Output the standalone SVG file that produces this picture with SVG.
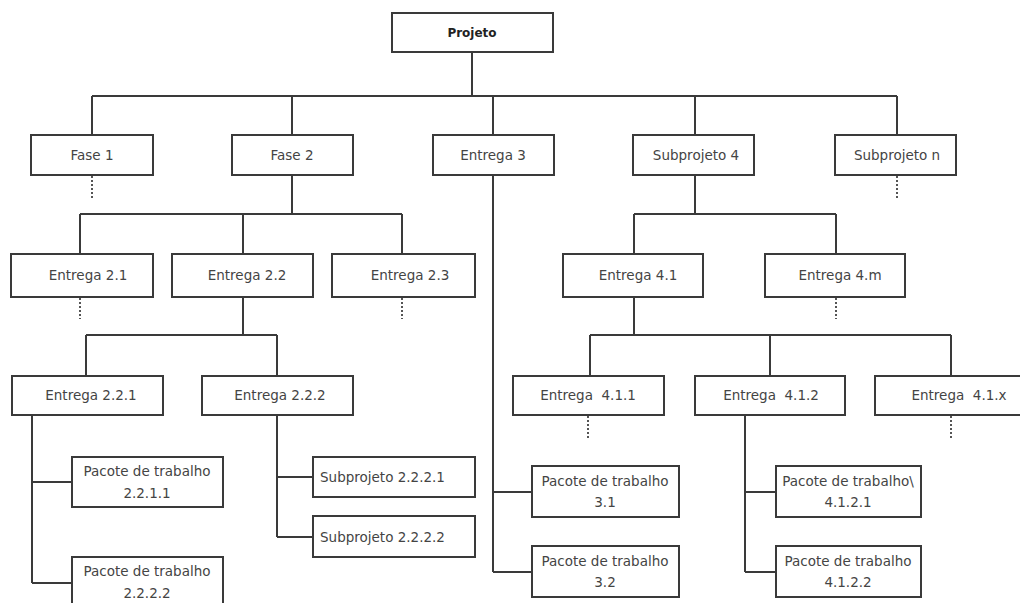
<svg xmlns="http://www.w3.org/2000/svg" width="1020" height="603" viewBox="0 0 1020 603">
<style>
.box{fill:#fff;stroke:#3a3a3a;stroke-width:2}
.t{font-family:"DejaVu Sans",Verdana,sans-serif;font-size:13.5px;fill:#444;text-anchor:middle;white-space:pre}
.tl{text-anchor:start}
.b{font-weight:bold;font-size:12px;fill:#222}
.ln{stroke:#3a3a3a;stroke-width:2;fill:none}
.dt{stroke:#555;stroke-width:2;stroke-dasharray:2 2;fill:none}
</style>
<rect width="1020" height="603" fill="#fff"/>
<g id="connectors">
<path class="ln" d="M472 52V96M92 96H897M92 96V135M292 96V135M493 96V135M695 96V135M897 96V135"/>
<path class="ln" d="M292 175V214M80 214H402M80 214V254M243 214V254M402 214V254"/>
<path class="ln" d="M695 175V214M634 214H836M634 214V254M836 214V254"/>
<path class="ln" d="M493 175V572M493 492H532M493 572H532"/>
<path class="ln" d="M243 297V335M86 335H277M86 335V376M277 335V376"/>
<path class="ln" d="M32 415V583M32 482H72M32 583H72"/>
<path class="ln" d="M277 415V537M277 477H313M277 537H313"/>
<path class="ln" d="M634 297V335M590 335H951M590 335V376M770 335V376M951 335V376"/>
<path class="ln" d="M745 415V572M745 492H776M745 572H776"/>
<path class="dt" d="M92 176V200M897 176V200M80 298V319M402 298V319M836 298V319M588 416V440M951 416V440"/>
</g>
<g id="projeto"><rect class="box" x="392" y="13" width="161" height="39"/><text class="t b" x="472" y="37">Projeto</text></g>
<g id="fase1"><rect class="box" x="31" y="135" width="122" height="40"/><text class="t" x="92" y="160">Fase 1</text></g>
<g id="fase2"><rect class="box" x="232" y="135" width="121" height="40"/><text class="t" x="292" y="160">Fase 2</text></g>
<g id="entrega3"><rect class="box" x="433" y="135" width="121" height="40"/><text class="t" x="493" y="160">Entrega 3</text></g>
<g id="subprojeto4"><rect class="box" x="633" y="135" width="121" height="40"/><text class="t" x="696" y="160">Subprojeto 4</text></g>
<g id="subprojeton"><rect class="box" x="835" y="135" width="121" height="40"/><text class="t" x="897" y="160">Subprojeto n</text></g>
<g id="entrega21"><rect class="box" x="11" y="254" width="142" height="43"/><text class="t" x="88" y="280">Entrega 2.1</text></g>
<g id="entrega22"><rect class="box" x="172" y="254" width="141" height="43"/><text class="t" x="247" y="280">Entrega 2.2</text></g>
<g id="entrega23"><rect class="box" x="332" y="254" width="143" height="43"/><text class="t" x="410" y="280">Entrega 2.3</text></g>
<g id="entrega41"><rect class="box" x="563" y="254" width="140" height="43"/><text class="t" x="638" y="280">Entrega 4.1</text></g>
<g id="entrega4m"><rect class="box" x="765" y="254" width="140" height="43"/><text class="t" x="840" y="280">Entrega 4.m</text></g>
<g id="entrega221"><rect class="box" x="12" y="376" width="151" height="39"/><text class="t" x="91" y="400">Entrega 2.2.1</text></g>
<g id="entrega222"><rect class="box" x="202" y="376" width="151" height="39"/><text class="t" x="280" y="400">Entrega 2.2.2</text></g>
<g id="entrega411"><rect class="box" x="513" y="376" width="151" height="39"/><text class="t" x="588" y="400">Entrega  4.1.1</text></g>
<g id="entrega412"><rect class="box" x="695" y="376" width="150" height="39"/><text class="t" x="771" y="400">Entrega  4.1.2</text></g>
<g id="entrega41x"><rect class="box" x="875" y="376" width="152" height="39"/><text class="t" x="959" y="400">Entrega  4.1.x</text></g>
<g id="pacote2211"><rect class="box" x="72" y="457" width="151" height="50"/><text class="t" x="147" y="476">Pacote de trabalho</text><text class="t" x="147" y="498">2.2.1.1</text></g>
<g id="pacote2222"><rect class="box" x="72" y="557" width="151" height="52"/><text class="t" x="147" y="576">Pacote de trabalho</text><text class="t" x="147" y="598">2.2.2.2</text></g>
<g id="subprojeto2221"><rect class="box" x="313" y="457" width="162" height="40"/><text class="t tl" x="320" y="482">Subprojeto 2.2.2.1</text></g>
<g id="subprojeto2222"><rect class="box" x="313" y="516" width="162" height="41"/><text class="t tl" x="320" y="542">Subprojeto 2.2.2.2</text></g>
<g id="pacote31"><rect class="box" x="532" y="466" width="147" height="51"/><text class="t" x="605" y="486">Pacote de trabalho</text><text class="t" x="605" y="507">3.1</text></g>
<g id="pacote32"><rect class="box" x="532" y="546" width="147" height="51"/><text class="t" x="605" y="566">Pacote de trabalho</text><text class="t" x="605" y="587">3.2</text></g>
<g id="pacote4121"><rect class="box" x="776" y="466" width="145" height="51"/><text class="t" x="848" y="486">Pacote de trabalho\</text><text class="t" x="848" y="507">4.1.2.1</text></g>
<g id="pacote4122"><rect class="box" x="776" y="546" width="145" height="51"/><text class="t" x="848" y="566">Pacote de trabalho</text><text class="t" x="848" y="587">4.1.2.2</text></g>
</svg>
